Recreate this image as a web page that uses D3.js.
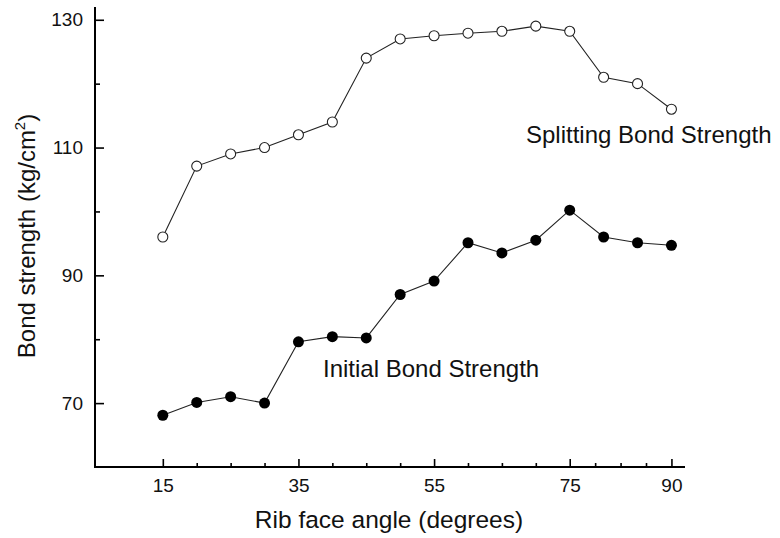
<!DOCTYPE html>
<html>
<head>
<meta charset="utf-8">
<script src="https://cdn.jsdelivr.net/npm/d3@7"></script>
<style>
  html, body { margin: 0; padding: 0; background: #fff; }
  svg { display: block; font-family: "Liberation Sans", Arial, Helvetica, sans-serif; }
</style>
</head>
<body>
<svg id="chart" width="780" height="538"></svg>
<script>
// ---- data ----
const angles = [15, 20, 25, 30, 35, 40, 45, 50, 55, 60, 65, 70, 75, 80, 85, 90];
const splittingBond = [96.0, 107.1, 109.0, 110.0, 112.0, 114.0, 124.0, 127.0, 127.5, 127.9, 128.2, 129.0, 128.2, 121.0, 120.0, 116.0];
const initialBond = [68.1, 70.1, 71.0, 70.0, 79.6, 80.4, 80.2, 87.0, 89.1, 95.1, 93.5, 95.5, 100.2, 96.0, 95.1, 94.7];
const xMajorTicks = [15, 35, 55, 75, 90];
const xMinorTicks = [20, 25, 30, 40, 45, 50, 60, 65, 70, 78.75, 82.5, 86.25];
const yMajorTicks = [70, 90, 110, 130];
const yMinorTicks = [80, 100, 120];
const seriesLabels = ["Splitting Bond Strength", "Initial Bond Strength"];
const xTitle = "Rib face angle (degrees)";

// ---- layout ----
const svg = d3.select("#chart");
const x = d3.scaleLinear().domain([5, 92]).range([95, 685]);
const y = d3.scaleLinear().domain([60, 132]).range([467, 7]);
const axisColor = "#000";

// X axis
const gx = svg.append("g").attr("transform", `translate(0,${y(60)})`);
gx.call(d3.axisBottom(x).tickValues(xMajorTicks).tickSize(-8).tickPadding(12).tickFormat(d3.format("d")))
  .call(g => g.select(".domain").remove());
gx.selectAll(".tick line").attr("stroke", axisColor).attr("stroke-width", 1.6);
gx.selectAll(".tick text").attr("font-size", 19).attr("fill", "#111").attr("font-family", "Liberation Sans, Arial, sans-serif");
const gxm = svg.append("g").attr("transform", `translate(0,${y(60)})`);
gxm.call(d3.axisBottom(x).tickValues(xMinorTicks).tickSize(-4).tickFormat(""))
  .call(g => g.select(".domain").remove());
gxm.selectAll(".tick line").attr("stroke", axisColor).attr("stroke-width", 1.6);

// Y axis
const gy = svg.append("g").attr("transform", `translate(${x(5)},0)`);
gy.call(d3.axisLeft(y).tickValues(yMajorTicks).tickSize(-9).tickPadding(12).tickFormat(d3.format("d")))
  .call(g => g.select(".domain").remove());
gy.selectAll(".tick line").attr("stroke", axisColor).attr("stroke-width", 1.6);
gy.selectAll(".tick text").attr("font-size", 19).attr("fill", "#111").attr("font-family", "Liberation Sans, Arial, sans-serif");
const gym = svg.append("g").attr("transform", `translate(${x(5)},0)`);
gym.call(d3.axisLeft(y).tickValues(yMinorTicks).tickSize(-5).tickFormat(""))
  .call(g => g.select(".domain").remove());
gym.selectAll(".tick line").attr("stroke", axisColor).attr("stroke-width", 1.6);

// axis lines (L shape)
svg.append("path")
  .attr("d", `M${x(5)},${y(132)} V${y(60)} H${x(92)}`)
  .attr("fill", "none").attr("stroke", axisColor).attr("stroke-width", 2);

// series
const line = d3.line().x(d => x(d[0])).y(d => y(d[1]));
const sData = angles.map((a, i) => [a, splittingBond[i]]);
const iData = angles.map((a, i) => [a, initialBond[i]]);

svg.append("path").datum(sData).attr("d", line)
  .attr("fill", "none").attr("stroke", "#222").attr("stroke-width", 1.1);
svg.append("path").datum(iData).attr("d", line)
  .attr("fill", "none").attr("stroke", "#222").attr("stroke-width", 1.1);

svg.append("g").selectAll("circle").data(sData).join("circle")
  .attr("cx", d => x(d[0])).attr("cy", d => y(d[1])).attr("r", 5)
  .attr("fill", "#fff").attr("stroke", "#222").attr("stroke-width", 1.1);
svg.append("g").selectAll("circle").data(iData).join("circle")
  .attr("cx", d => x(d[0])).attr("cy", d => y(d[1])).attr("r", 5.5)
  .attr("fill", "#000");

// series labels
svg.append("text").attr("x", 526).attr("y", 143).attr("font-size", 24).attr("fill", "#111")
  .text(seriesLabels[0]);
svg.append("text").attr("x", 323).attr("y", 377).attr("font-size", 24).attr("fill", "#111")
  .text(seriesLabels[1]);

// axis titles
svg.append("text").attr("x", 389).attr("y", 528).attr("text-anchor", "middle")
  .attr("font-size", 24.5).attr("fill", "#111").text(xTitle);

const yt = svg.append("text")
  .attr("transform", `translate(35,236) rotate(-90)`)
  .attr("text-anchor", "middle").attr("font-size", 24).attr("fill", "#111");
yt.append("tspan").text("Bond strength (kg/cm");
yt.append("tspan").attr("font-size", 15).attr("dy", -10).text("2");
yt.append("tspan").attr("dy", 10).text(")");
</script>
</body>
</html>
